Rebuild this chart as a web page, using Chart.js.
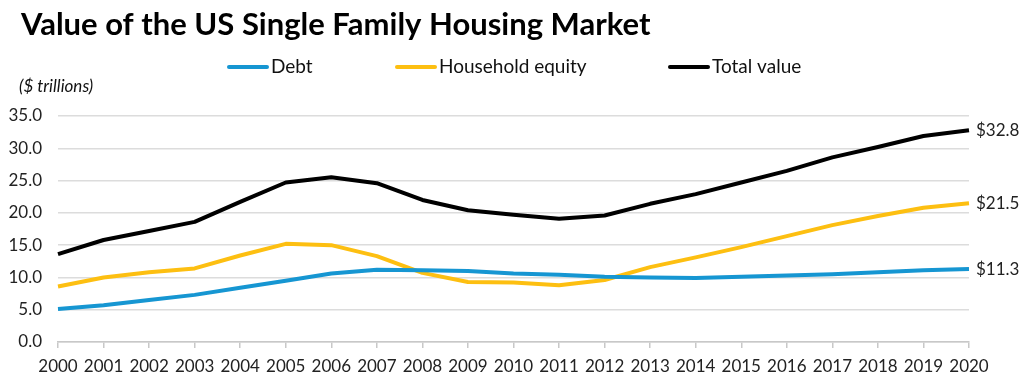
<!DOCTYPE html>
<html>
<head>
<meta charset="utf-8">
<script src="https://cdn.jsdelivr.net/npm/chart.js@4"></script>
<style>
  body { margin: 0; background: #fff; }
  canvas { display: block; }
</style>
</head>
<body>
<canvas id="chart" width="1024" height="374"></canvas>
<script>
const years = ["2000","2001","2002","2003","2004","2005","2006","2007","2008","2009","2010",
  "2011","2012","2013","2014","2015","2016","2017","2018","2019","2020"];
const debt = [5.1, 5.7, 6.5, 7.3, 8.4, 9.5, 10.6, 11.2, 11.1, 11.0, 10.6,
  10.4, 10.1, 10.0, 9.9, 10.1, 10.3, 10.5, 10.8, 11.1, 11.3];
const equity = [8.6, 10.0, 10.8, 11.4, 13.4, 15.2, 15.0, 13.3, 10.7, 9.3, 9.2,
  8.8, 9.6, 11.6, 13.1, 14.7, 16.4, 18.1, 19.5, 20.8, 21.5];
const total = [13.6, 15.8, 17.2, 18.6, 21.7, 24.7, 25.5, 24.6, 22.0, 20.4, 19.7,
  19.1, 19.6, 21.4, 22.9, 24.7, 26.5, 28.6, 30.2, 31.9, 32.8];
const endLabels = ["$11.3", "$21.5", "$32.8"];

const FONT = "Lato";
const ctx = document.getElementById("chart");

// title, legend, unit label and end-of-line values
const extras = {
  id: "extras",
  afterDraw(chart) {
    const c = chart.ctx;
    c.save();
    c.fillStyle = "#000";
    c.font = "bold 31px " + FONT;
    c.textBaseline = "alphabetic";
    c.textAlign = "left";
    c.fillText("Value of the US Single Family Housing Market", 21, 35);

    // legend
    const items = [
      { x: 229, text: "Debt", color: "#1696d2" },
      { x: 397, text: "Household equity", color: "#fdbf11" },
      { x: 670, text: "Total value", color: "#000000" },
    ];
    c.font = "19px " + FONT;
    c.textBaseline = "middle";
    items.forEach((it) => {
      c.strokeStyle = it.color;
      c.lineWidth = 4;
      c.lineCap = "round";
      c.beginPath();
      c.moveTo(it.x, 67);
      c.lineTo(it.x + 38, 67);
      c.stroke();
      c.fillStyle = "#111";
      c.fillText(it.text, it.x + 42, 67);
    });

    c.font = "italic 17px " + FONT;
    c.textBaseline = "alphabetic";
    c.fillStyle = "#111";
    c.fillText("($ trillions)", 19, 92);

    // values at the end of each line
    const y = chart.scales.y;
    const x = chart.scales.x;
    c.font = "17px " + FONT;
    c.textBaseline = "middle";
    c.fillStyle = "#222";
    chart.data.datasets.forEach((ds, i) => {
      const last = ds.data.length - 1;
      c.fillText(endLabels[i], x.getPixelForValue(last) + 7, y.getPixelForValue(ds.data[last]));
    });
    c.restore();
  },
};

new Chart(ctx, {
  type: "line",
  data: {
    labels: years,
    datasets: [
      { label: "Debt", data: debt, borderColor: "#1696d2", backgroundColor: "#1696d2" },
      { label: "Household equity", data: equity, borderColor: "#fdbf11", backgroundColor: "#fdbf11" },
      { label: "Total value", data: total, borderColor: "#000000", backgroundColor: "#000000" },
    ],
  },
  options: {
    responsive: false,
    animation: false,
    layout: { padding: { top: 116, right: 55, left: 0, bottom: 0 } },
    elements: {
      line: { borderWidth: 4, tension: 0, borderJoinStyle: "round", borderCapStyle: "butt" },
      point: { radius: 0 },
    },
    plugins: {
      legend: { display: false },
      title: { display: false },
      tooltip: { enabled: false },
    },
    scales: {
      x: {
        offset: false,
        afterFit: (s) => { s.height = 32; },
        grid: { drawOnChartArea: false, drawTicks: true, tickLength: 6, color: "#c8c8c8", lineWidth: 1.5 },
        border: { display: true, color: "#c8c8c8", width: 1.5 },
        ticks: { color: "#222", font: { family: FONT, size: 17 }, padding: 8, maxRotation: 0, autoSkip: false },
      },
      y: {
        min: 0,
        max: 35,
        afterFit: (s) => { s.width = 58; },
        grid: { color: "#dcdcdc", lineWidth: 1.5, drawTicks: false },
        border: { display: false },
        ticks: {
          stepSize: 5,
          color: "#222",
          font: { family: FONT, size: 17 },
          padding: 16,
          callback: (v) => v.toFixed(1),
        },
      },
    },
  },
  plugins: [extras],
});
</script>
</body>
</html>
